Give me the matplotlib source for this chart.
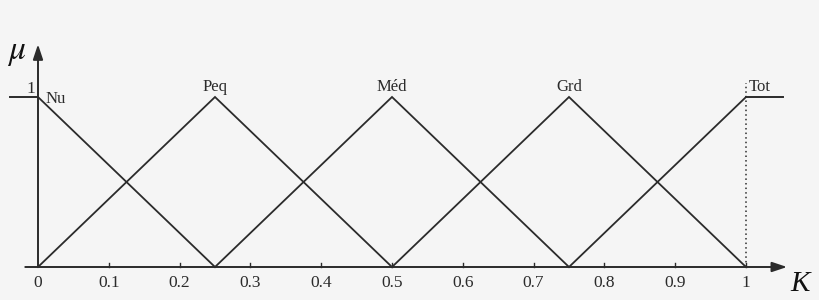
import matplotlib
matplotlib.use("Agg")
import matplotlib.pyplot as plt

labels = ["Nu", "Peq", "Méd", "Grd", "Tot"]
centers = [0.0, 0.25, 0.5, 0.75, 1.0]
width = 0.25
ticks = [0, 0.1, 0.2, 0.3, 0.4, 0.5, 0.6, 0.7, 0.8, 0.9, 1]
tick_labels = ["0", "0.1", "0.2", "0.3", "0.4", "0.5", "0.6", "0.7", "0.8", "0.9", "1"]

bg = "#f5f5f5"
lc = "#2b2b2b"
serif = ["Liberation Serif", "DejaVu Serif"]
plt.rcParams["mathtext.fontset"] = "stix"

fig = plt.figure(figsize=(8.2, 3.0), dpi=100, facecolor=bg)
ax = fig.add_axes([0, 0, 1, 1])
ax.set_facecolor(bg)
ax.axis("off")
x0 = -38 / 708
x1 = (820 - 38) / 708
ax.set_xlim(x0, x1)
ax.set_ylim(-33 / 170, 267 / 170)

# membership functions
for i, (c, lab) in enumerate(zip(centers, labels)):
    xs, ys = [], []
    if i > 0:
        xs.append(c - width); ys.append(0)
    xs.append(c); ys.append(1)
    if i < len(centers) - 1:
        xs.append(c + width); ys.append(0)
    ax.plot(xs, ys, color=lc, lw=1.3, solid_joinstyle="miter")

# saturation extensions
ax.plot([-28 / 708, 0], [1, 1], color=lc, lw=1.4)
ax.plot([1, (783 - 38) / 708], [1, 1], color=lc, lw=1.4)

# dotted line at 1
ax.plot([1, 1], [0, 1.08], color=lc, lw=1.1, ls=(0, (1, 2)))

# axes with arrows
ax.annotate("", xy=(1.058, 0), xytext=(-0.018, 0),
            arrowprops=dict(arrowstyle="-|>,head_length=0.9,head_width=0.3", color=lc, lw=1.4, shrinkA=0, shrinkB=0))
ax.annotate("", xy=(0, 1.31), xytext=(0, -0.0),
            arrowprops=dict(arrowstyle="-|>,head_length=0.9,head_width=0.3", color=lc, lw=1.4, shrinkA=0, shrinkB=0))

# ticks
for t, tl in zip(ticks, tick_labels):
    if t != 0:
        ax.plot([t, t], [0, 0.025], color=lc, lw=1.0)
    ax.text(t, -0.045, tl, ha="center", va="top", fontsize=12.5, family=serif, color=lc)

# labels
for c, lab in zip(centers, labels):
    if c == 0:
        ax.text(0.010, 0.99, lab, ha="left", va="center", fontsize=12, family=serif, color=lc)
    elif c == 1:
        ax.text(1.004, 1.01, lab, ha="left", va="bottom", fontsize=12, family=serif, color=lc)
    else:
        ax.text(c, 1.01, lab, ha="center", va="bottom", fontsize=12, family=serif, color=lc)

ax.text(-0.004, 1.0, "1", ha="right", va="bottom", fontsize=12.5, family=serif, color=lc)
ax.text(-0.03, 1.27, r"$\mu$", ha="center", va="center", fontsize=24, color="#111111")
ax.text(1.077, -0.1, "K", ha="center", va="center", fontsize=21, family=serif, style="italic", color="#111111")

fig.savefig("out.png", dpi=100, facecolor=bg)
